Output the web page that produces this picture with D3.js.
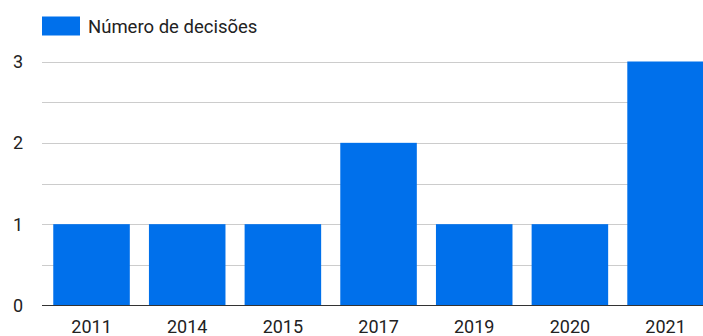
<!DOCTYPE html>
<html><head><meta charset="utf-8">
<script src="https://cdn.jsdelivr.net/npm/d3@7"></script>
<style>body{margin:0;background:#fff;}svg{display:block;font-family:Roboto,sans-serif;}</style>
</head><body>
<svg id="c" width="703" height="336"></svg>
<script>
const categories = ["2011","2014","2015","2017","2019","2020","2021"];
const values = [1,1,1,2,1,1,3];
const seriesName = "Número de decisões";
const yTicks = [0,1,2,3];
const gridTicks = [0,0.5,1,1.5,2,2.5,3];

const svg = d3.select("#c");
const color = "#0070eb";
const x = d3.scaleBand().domain(categories).range([43.7, 713.4]).paddingInner(0.2).paddingOuter(0.1);
const y = d3.scaleLinear().domain([0,3]).range([305.5, 61.5]);
const left = 42, right = 703;

svg.append("g").selectAll("line").data(gridTicks.filter(d=>d>0)).join("line")
  .attr("x1", left).attr("x2", right)
  .attr("y1", d=>Math.round(y(d))+0.5).attr("y2", d=>Math.round(y(d))+0.5)
  .attr("stroke", "#cccccc").attr("stroke-width", 1);

svg.append("g").selectAll("rect").data(values).join("rect")
  .attr("x", (d,i)=>x(categories[i]))
  .attr("width", x.bandwidth())
  .attr("y", d=>y(d))
  .attr("height", d=>y(0)-y(d))
  .attr("fill", color);

svg.append("line").attr("x1", left).attr("x2", right)
  .attr("y1", y(0)).attr("y2", y(0)).attr("stroke", "#333").attr("stroke-width", 1.2);

svg.append("g").selectAll("text").data(yTicks).join("text")
  .attr("x", 18).attr("y", d=>y(d)+6.5).attr("text-anchor","middle")
  .attr("font-size", 18).attr("fill", "#222").text(d=>d);

svg.append("g").selectAll("text").data(categories).join("text")
  .attr("x", d=>x(d)+x.bandwidth()/2).attr("y", 332.5).attr("text-anchor","middle")
  .attr("font-size", 18).attr("fill", "#222").text(d=>d);

svg.append("rect").attr("x", 42).attr("y", 16.5).attr("width", 38).attr("height", 19).attr("fill", color);
svg.append("text").attr("x", 88).attr("y", 32.5).attr("font-size", 18.5).attr("fill", "#222").text(seriesName);
</script>
</body></html>
